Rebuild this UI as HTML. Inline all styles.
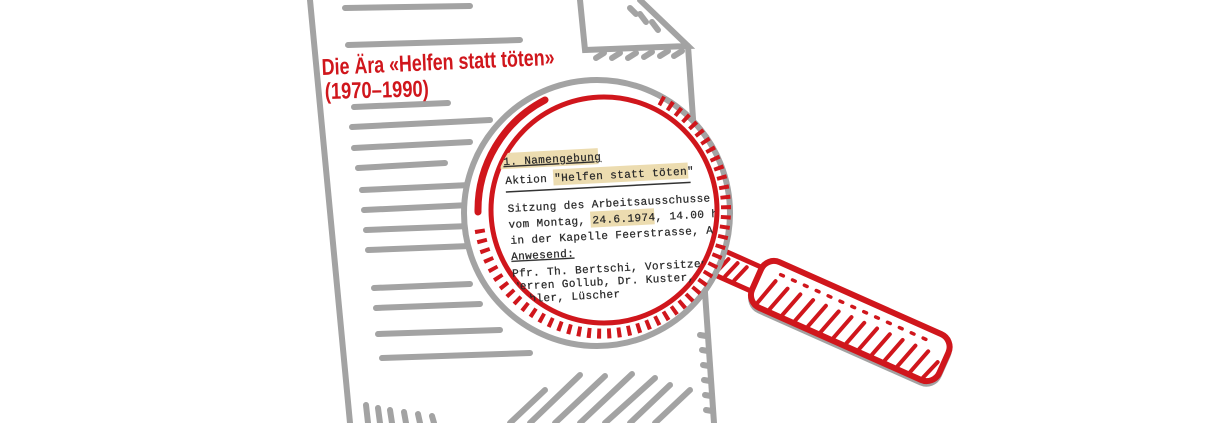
<!DOCTYPE html>
<html><head><meta charset="utf-8"><style>
html,body{margin:0;padding:0;background:#fff;width:1210px;height:423px;overflow:hidden}
svg{display:block}
.g{stroke:#a3a3a3;stroke-width:6;stroke-linecap:round;fill:none}
.r{stroke:#d0161c;fill:none;stroke-linecap:round}
.t{font-family:"Liberation Mono",monospace;font-size:11px;letter-spacing:0.4px;fill:#2a2a2a;stroke:#2a2a2a;stroke-width:0.25}
</style></head><body>
<svg width="1210" height="423" viewBox="0 0 1210 423">
<defs><clipPath id="lens"><circle cx="603" cy="212" r="112"/></clipPath></defs>
<path class="g" d="M310 0 L350 423"/>
<path class="g" d="M580 0 L585 50 L688 46 L640 0"/>
<path class="g" d="M688 46 L714 423"/>
<path class="g" d="M345 8 L470 6"/>
<g class="g" stroke-width="4">
<path d="M630 8 L636 14"/><path d="M640 14 L646 22"/><path d="M652 22 L658 30"/>
<path d="M596 58 L604 53"/><path d="M612 58 L620 53"/><path d="M628 58 L636 53"/><path d="M644 57 L652 52"/><path d="M660 56 L668 51"/><path d="M674 56 L682 51"/>
</g>
<g class="g">
<path d="M348 45 L520 40"/>
<path d="M354 107 L448 103"/>
<path d="M352 127 L490 120"/>
<path d="M354 148 L470 142"/>
<path d="M358 168 L445 163"/>
<path d="M362 190 L470 185"/>
<path d="M364 210 L470 205"/>
<path d="M366 230 L470 226"/>
<path d="M368 250 L470 246"/>
<path d="M374 288 L470 284"/>
<path d="M376 308 L480 304"/>
<path d="M378 334 L500 330"/>
<path d="M382 358 L530 353"/>
</g>
<g class="g" stroke-width="5">
<path d="M366 405 L368 423"/><path d="M378 408 L380 423"/><path d="M390 410 L392 423"/><path d="M404 412 L406 423"/><path d="M418 414 L420 423"/><path d="M432 416 L434 423"/>
<path d="M510 423 L545 390"/><path d="M530 423 L580 375"/><path d="M555 423 L605 376"/><path d="M580 423 L632 374"/><path d="M605 423 L655 378"/><path d="M630 423 L670 385"/><path d="M655 423 L690 390"/>
<path d="M700 335 L706 336"/><path d="M702 350 L708 351"/><path d="M703 365 L709 366"/><path d="M704 380 L710 381"/><path d="M705 395 L711 396"/><path d="M706 410 L712 411"/>
</g>
<g font-family="Liberation Sans,sans-serif" font-weight="bold" fill="#d0161c" font-size="23">
<text x="322" y="75" transform="rotate(-2.5 322 75)" textLength="233" lengthAdjust="spacingAndGlyphs">Die Ära «Helfen statt töten»</text>
<text x="325" y="99" transform="rotate(-1.5 325 99)" textLength="104" lengthAdjust="spacingAndGlyphs">(1970–1990)</text>
</g>
<g transform="translate(848 320) rotate(24)">
<rect x="-150" y="-13" width="52" height="26" fill="#fff" stroke="#d0161c" stroke-width="5"/>
<rect x="-100" y="-25" width="205" height="50" rx="14" fill="#fff" stroke="#a3a3a3" stroke-width="5" transform="translate(1 3)"/>
<rect x="-100" y="-25" width="205" height="50" rx="14" fill="#fff" stroke="#d0161c" stroke-width="6"/>
<g class="r" stroke-width="4">
<path d="M-90 22 L-82 -6"/><path d="M-76 22 L-68 -4"/><path d="M-62 22 L-54 -4"/><path d="M-48 22 L-40 -4"/><path d="M-34 22 L-26 -4"/><path d="M-20 22 L-12 -4"/><path d="M-6 22 L2 -4"/><path d="M8 22 L16 -4"/><path d="M22 22 L30 -4"/><path d="M36 22 L44 -4"/><path d="M50 22 L58 -4"/><path d="M64 22 L72 -4"/><path d="M78 22 L86 -4"/><path d="M92 22 L99 2"/>
<path d="M-140 10 L-134 -7"/><path d="M-130 10 L-124 -7"/><path d="M-120 10 L-114 -7"/>
</g>
<g class="r" stroke-width="3.5" stroke-dasharray="3 10"><path d="M-80 -14 L80 -14"/></g>
</g>
<circle cx="597" cy="213" r="133" fill="#fff" stroke="#a3a3a3" stroke-width="6"/>
<circle cx="604" cy="210" r="113" fill="#fff" stroke="#d0161c" stroke-width="5"/>
<path class="r" stroke-width="7" d="M478 212 A124 124 0 0 1 545 100"/>
<path d="M660 100 A124 124 0 1 1 479 225" fill="none" stroke="#d0161c" stroke-width="10" stroke-dasharray="4 6"/>
<g clip-path="url(#lens)">
<g transform="translate(3 0) rotate(-3 600 230)">
<rect x="501" y="148" width="98" height="16" fill="#ecdcb0"/>
<rect x="553" y="167" width="135" height="16" fill="#ecdcb0"/>
<rect x="588" y="211" width="64" height="16" fill="#ecdcb0"/>
<text class="t" x="504" y="160" text-decoration="underline">1. Namengebung</text>
<text class="t" x="505" y="179">Aktion "Helfen statt töten"</text>
<path d="M505 187 L690 187" stroke="#333" stroke-width="1.5"/>
<text class="t" x="506" y="207">Sitzung des Arbeitsausschusse</text>
<text class="t" x="506" y="223">vom Montag, 24.6.1974, 14.00 h</text>
<text class="t" x="507" y="239">in der Kapelle Feerstrasse, A</text>
<text class="t" x="507" y="255" text-decoration="underline">Anwesend:</text>
<text class="t" x="507" y="272">Pfr. Th. Bertschi, Vorsitzende</text>
<text class="t" x="507" y="285">Herren Gollub, Dr. Kuster, Ha</text>
<text class="t" x="509" y="298">Tobler, Lüscher</text>
</g>
</g>
</svg>
</body></html>
